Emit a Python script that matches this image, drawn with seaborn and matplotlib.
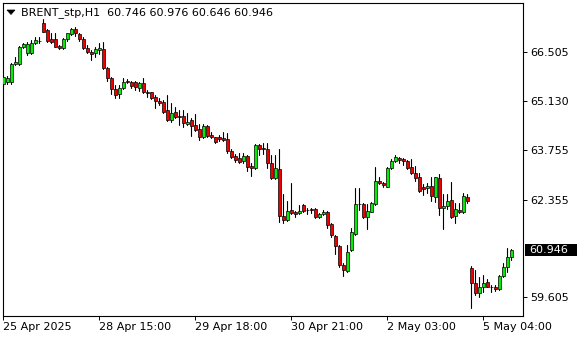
import numpy as np
import pandas as pd
import seaborn as sns
import matplotlib
matplotlib.use("Agg")
import matplotlib.pyplot as plt
from matplotlib.transforms import blended_transform_factory
from matplotlib.patches import Rectangle, Polygon

symbol = "BRENT_stp,H1"

open_ = [65.61, 65.67, 65.67, 66.17, 66.17, 66.65, 66.47, 66.47, 66.75, 66.81,
         67.33, 67.12, 66.87, 66.86, 66.67, 66.61, 66.86, 67.00, 67.14, 67.00,
         66.86, 66.63, 66.51, 66.47, 66.56, 66.59, 66.05, 65.77, 65.46, 65.32,
         65.48, 65.70, 65.67, 65.67, 65.50, 65.63, 65.38, 65.37, 65.25, 65.13,
         65.10, 64.87, 64.59, 64.83, 64.71, 64.70, 64.48, 64.59, 64.45, 64.34,
         64.11, 64.42, 64.17, 64.11, 64.11, 64.08, 64.05, 63.72, 63.58, 63.53,
         63.45, 63.58, 63.30, 63.23, 63.89, 63.80, 63.77, 63.37, 62.95, 63.20,
         61.89, 61.78, 62.06, 62.01, 61.97, 62.20, 62.07, 62.08, 62.08, 61.86,
         61.95, 62.01, 61.67, 61.33, 61.05, 60.51, 60.35, 60.94, 61.38, 62.23,
         62.22, 61.87, 62.01, 62.22, 62.88, 62.81, 62.72, 63.23, 63.44, 63.52,
         63.49, 63.45, 63.28, 63.09, 62.98, 62.70, 62.67, 62.74, 62.43, 62.95,
         62.11, 62.17, 62.34, 61.89, 62.06, 62.01, 62.42, 60.42, 60.02, 59.74,
         59.89, 60.03, 59.90, 59.90, 59.83, 60.20, 60.45, 60.746]

high = [65.86, 65.83, 66.20, 66.37, 66.67, 66.77, 66.79, 66.84, 66.94, 66.94,
        67.43, 67.14, 67.03, 67.03, 66.70, 66.89, 67.05, 67.17, 67.22, 67.05,
        66.94, 66.70, 66.56, 66.65, 66.75, 66.80, 66.09, 65.81, 65.58, 65.58,
        65.78, 65.74, 65.69, 65.69, 65.67, 65.78, 65.44, 65.39, 65.30, 65.20,
        65.16, 65.30, 65.08, 64.95, 64.87, 64.87, 64.80, 64.65, 64.76, 64.47,
        64.47, 64.45, 64.25, 64.12, 64.17, 64.26, 64.24, 63.78, 63.63, 63.66,
        63.66, 63.61, 63.39, 63.91, 63.91, 63.94, 63.94, 63.61, 63.61, 63.77,
        62.51, 62.31, 62.83, 62.03, 62.20, 62.23, 62.11, 62.11, 62.11, 61.99,
        62.06, 62.04, 61.69, 61.36, 61.08, 60.58, 61.08, 61.56, 62.69, 62.69,
        62.25, 62.22, 62.28, 63.28, 63.00, 62.84, 63.28, 63.50, 63.61, 63.55,
        63.52, 63.47, 63.50, 63.30, 63.09, 62.78, 62.83, 62.98, 63.00, 63.07,
        62.51, 62.51, 62.86, 62.27, 62.27, 62.53, 62.51, 60.49, 60.37, 60.19,
        60.23, 60.11, 59.95, 59.95, 60.23, 60.56, 60.98, 60.976]

low = [65.55, 65.61, 65.61, 66.14, 66.14, 66.61, 66.42, 66.44, 66.73, 66.77,
       67.06, 66.80, 66.77, 66.64, 66.58, 66.58, 66.82, 66.98, 66.96, 66.82,
       66.58, 66.47, 66.28, 66.37, 66.45, 66.02, 65.69, 65.32, 65.22, 65.22,
       65.46, 65.63, 65.48, 65.44, 65.41, 65.35, 65.25, 65.18, 64.92, 65.01,
       64.78, 64.56, 64.54, 64.64, 64.45, 64.39, 64.45, 64.14, 64.28, 64.03,
       64.08, 64.11, 64.08, 63.94, 64.00, 64.00, 63.67, 63.52, 63.42, 63.39,
       63.39, 63.17, 63.02, 63.21, 63.61, 63.64, 63.23, 62.92, 62.92, 61.73,
       61.70, 61.75, 61.95, 61.86, 61.95, 62.01, 61.95, 61.99, 61.83, 61.83,
       61.92, 61.55, 61.31, 60.82, 60.47, 60.20, 60.33, 60.91, 61.36, 62.06,
       61.83, 61.53, 62.00, 62.20, 62.78, 62.72, 62.70, 63.21, 63.40, 63.37,
       63.33, 63.21, 63.07, 62.88, 62.58, 62.48, 62.55, 62.32, 62.29, 61.92,
       61.53, 62.08, 61.84, 61.69, 61.99, 61.97, 62.27, 59.30, 59.67, 59.62,
       59.76, 59.89, 59.76, 59.79, 59.81, 60.18, 60.33, 60.646]

close = [65.80, 65.77, 66.18, 66.23, 66.64, 66.73, 66.73, 66.77, 66.84, 66.82,
         67.07, 66.82, 66.80, 66.65, 66.61, 66.86, 67.03, 67.14, 67.03, 66.86,
         66.61, 66.50, 66.45, 66.59, 66.61, 66.05, 65.78, 65.46, 65.30, 65.50,
         65.65, 65.65, 65.56, 65.53, 65.63, 65.37, 65.35, 65.22, 65.13, 65.08,
         64.82, 64.59, 64.80, 64.67, 64.67, 64.50, 64.54, 64.43, 64.31, 64.11,
         64.42, 64.14, 64.11, 63.97, 64.05, 64.03, 63.73, 63.56, 63.47, 63.42,
         63.58, 63.28, 63.25, 63.89, 63.77, 63.78, 63.37, 62.95, 63.23, 61.89,
         61.78, 62.03, 61.97, 61.95, 62.03, 62.04, 62.06, 62.07, 61.86, 61.95,
         62.01, 61.64, 61.36, 61.05, 60.51, 60.37, 60.89, 61.43, 62.22, 62.22,
         61.87, 62.03, 62.25, 62.88, 62.81, 62.75, 63.25, 63.44, 63.54, 63.46,
         63.44, 63.25, 63.09, 62.95, 62.60, 62.65, 62.74, 62.45, 62.98, 62.11,
         62.17, 62.31, 61.87, 62.08, 62.01, 62.45, 62.32, 60.02, 59.74, 59.89,
         60.00, 59.90, 59.89, 59.83, 60.20, 60.45, 60.73, 60.946]

xtick_bars = [0, 24, 48, 72, 96, 120]
xtick_labels = ["25 Apr 2025", "28 Apr 15:00", "29 Apr 18:00",
                "30 Apr 21:00", "2 May 03:00", "5 May 04:00"]
ytick_values = [59.605, 62.355, 63.755, 65.130, 66.505]
last_price = close[-1]

UP = "#00ee00"
DOWN = "#ee0000"

sns.set_style("white")
plt.rcParams["font.family"] = ["DejaVu Sans"]

W, H = 580, 340
fig = plt.figure(figsize=(W / 100, H / 100), dpi=100)
fig.patch.set_facecolor("white")
L, R, T, B = 2.7, 523.3, 2.7, 316.0
ax = fig.add_axes([L / W, (H - B) / H, (R - L) / W, (B - T) / H])

n = len(close)
df = pd.DataFrame({"bar": np.arange(n), "open": open_, "high": high,
                   "low": low, "close": close})

# wicks
wick = pd.concat([
    df[["bar", "high"]].rename(columns={"high": "price"}),
    df[["bar", "low"]].rename(columns={"low": "price"}),
]).sort_values("bar")
sns.lineplot(data=wick, x="bar", y="price", units="bar", estimator=None,
             sort=False, color="black", lw=0.8, ax=ax, legend=False, zorder=2)

# bodies
bottom = np.minimum(df["open"], df["close"])
height = np.maximum(np.abs(df["close"] - df["open"]), 0.008)
colors = [UP if c >= o else DOWN for o, c in zip(df["open"], df["close"])]
ax.bar(df["bar"], height, bottom=bottom, width=0.7, color=colors,
       edgecolor="black", linewidth=0.5, zorder=3)

ax.set_xlim(-0.15, 130)
ax.set_ylim(59.079, 67.892)
ax.set_xlabel("")
ax.set_ylabel("")

for s in ax.spines.values():
    s.set_visible(True)
    s.set_color("black")
    s.set_linewidth(0.8)

ax.set_xticks(xtick_bars)
ax.set_xticklabels(xtick_labels)
for lab in ax.get_xticklabels():
    lab.set_horizontalalignment("left")
ax.yaxis.tick_right()
ax.set_yticks(ytick_values)
ax.set_yticklabels([f"{v:.3f}" for v in ytick_values])
ax.tick_params(axis="x", bottom=True, direction="out", length=3, width=0.7,
               colors="black", labelsize=8, pad=1.5)
ax.tick_params(axis="y", right=True, left=False, labelright=True,
               labelleft=False, direction="out", length=3, width=0.7,
               colors="black", labelsize=8, pad=2)

# current price label
bt = blended_transform_factory(ax.transAxes, ax.transData)
aw = R - L
ax.add_patch(Rectangle(((525 - L) / aw, last_price - 0.17), 52 / aw, 0.34,
                       transform=bt, facecolor="black", edgecolor="none",
                       clip_on=False, zorder=5))
ax.text((529.5 - L) / aw, last_price, f"{last_price:.3f}", transform=bt,
        color="white", fontsize=8, va="center", ha="left", clip_on=False,
        zorder=6)

# header
ah = B - T
tri = [((7 - L) / aw, 1 - (10 - T) / ah), ((15 - L) / aw, 1 - (10 - T) / ah),
       ((11 - L) / aw, 1 - (14.5 - T) / ah)]
ax.add_patch(Polygon(tri, closed=True, transform=ax.transAxes,
                     facecolor="black", edgecolor="black", lw=0.5, zorder=6))
header = f"{symbol}  {open_[-1]:.3f} {high[-1]:.3f} {low[-1]:.3f} {close[-1]:.3f}"
ax.text((21 - L) / aw, 1 - (12.5 - T) / ah, header, transform=ax.transAxes,
        fontsize=8, color="black", va="center", ha="left", zorder=6)

fig.savefig("out.png", dpi=100, facecolor="white")
